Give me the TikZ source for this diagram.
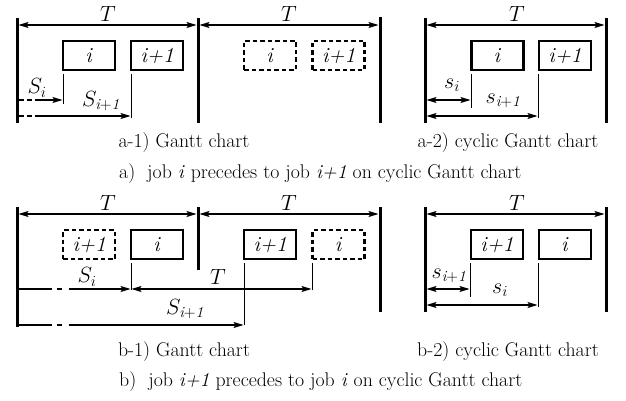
\RequirePackage{fix-cm}
\documentclass[tikz,border=0pt]{standalone}
\usepackage{fontspec}
\usetikzlibrary{arrows.meta}
\tikzset{
  every node/.style={font=\fontsize{19.8}{24}\selectfont, inner sep=0pt},
  big/.style={font=\fontsize{22}{26}\selectfont},
  bar/.style={line width=3pt},
  jobbox/.style={draw, line width=2.5pt, minimum width=52pt, minimum height=29pt, font=\fontsize{21.5}{26}\selectfont},
  ghostbox/.style={jobbox, dash pattern=on 4.5pt off 3pt},
  guide/.style={line width=0.9pt},
  tipst/.style={line width=1.1pt},
  dimarrow/.style={tipst, -{Stealth[length=10pt,width=6pt,inset=2pt]}},
  dimboth/.style={tipst, {Stealth[length=10pt,width=6pt,inset=2pt]}-{Stealth[length=10pt,width=6pt,inset=2pt]}},
  dashpart/.style={tipst, dash pattern=on 5pt off 3pt},
  dashdot/.style={tipst, dash pattern=on 33pt off 5pt on 5pt off 7pt on 400pt, -{Stealth[length=10pt,width=6pt,inset=2pt]}},
}
\begin{document}
\begin{tikzpicture}[x=1pt,y=-1pt]
\useasboundingbox (0,0) rectangle (626,401);
% ================= part a =================
\coordinate (aL1) at (17,18);  \coordinate (aL2) at (17,123);
\coordinate (aM1) at (198,18); \coordinate (aM2) at (198,123);
\coordinate (aR1) at (380,17); \coordinate (aR2) at (380,123);
\coordinate (cL1) at (425,18); \coordinate (cL2) at (425,123);
\coordinate (cR1) at (606,18); \coordinate (cR2) at (606,123);
\draw[bar] (aL1) -- (aL2);
\draw[bar] (aM1) -- (aM2);
\draw[bar] (aR1) -- (aR2);
\draw[bar] (cL1) -- (cL2);
\draw[bar] (cR1) -- (cR2);
\coordinate (aT0) at (18.5,25); \coordinate (aT1a) at (196.5,25);
\coordinate (aT1b) at (199.5,25); \coordinate (aT2) at (378.5,25);
\coordinate (cT0) at (426.5,25); \coordinate (cT1) at (604.5,25);
\draw[dimboth] (aT0) -- (aT1a);
\draw[dimboth] (aT1b) -- (aT2);
\draw[dimboth] (cT0) -- (cT1);
\node[big] (aTl1) at (108,14) {$T$};
\node[big] (aTl2) at (289,14) {$T$};
\node[big] (cTl) at (517,14) {$T$};
\node[jobbox] (a1i) at (89.2,55.5) {\textit{i}};
\node[jobbox] (a1j) at (157.2,55.5) {\textit{i+1}};
\node[ghostbox] (a1gi) at (270.2,55.5) {\textit{i}};
\node[ghostbox] (a1gj) at (338.7,55.5) {\textit{i+1}};
\node[jobbox] (a2i) at (497.5,55.5) {\textit{i}};
\node[jobbox] (a2j) at (565,55.5) {\textit{i+1}};
\coordinate (a1v1t) at (63,74);  \coordinate (a1v1b) at (63,104);
\coordinate (a1v2t) at (131,74); \coordinate (a1v2b) at (131,118);
\draw[guide] (a1v1t) -- (a1v1b);
\draw[guide] (a1v2t) -- (a1v2b);
\coordinate (a1s0) at (18.5,100); \coordinate (a1s1) at (37,100); \coordinate (a1s2) at (62.5,100);
\coordinate (a1u0) at (18.5,116); \coordinate (a1u1) at (37,116); \coordinate (a1u2) at (130.5,116);
\draw[dashpart] (a1s0) -- (a1s1);
\draw[dimarrow] (a1s1) -- (a1s2);
\draw[dashpart] (a1u0) -- (a1u1);
\draw[dimarrow] (a1u1) -- (a1u2);
\node[big] (a1Si) at (37,88) {$S_i$};
\node[big] (a1Sj) at (101,101) {$S_{\mathit{i+1}}$};
\coordinate (a2v1t) at (471,74);  \coordinate (a2v1b) at (471,108);
\coordinate (a2v2t) at (538,74);  \coordinate (a2v2b) at (538,118);
\draw[guide] (a2v1t) -- (a2v1b);
\draw[guide] (a2v2t) -- (a2v2b);
\coordinate (a2s0) at (426.5,100); \coordinate (a2s1) at (470.5,100);
\coordinate (a2u0) at (426.5,116); \coordinate (a2u1) at (537.5,116);
\draw[dimboth] (a2s0) -- (a2s1);
\draw[dimboth] (a2u0) -- (a2u1);
\node[big] (a2si) at (452,85) {$s_i$};
\node[big] (a2sj) at (503,101) {$s_{\mathit{i+1}}$};
\node[anchor=base] (capa1) at (184,147) {a-1) Gantt chart};
\node[anchor=base] (capa2) at (508,147) {a-2) cyclic Gantt chart};
\node[anchor=base west] (capa) at (119,178) {a)\ \ job \textit{i} precedes to job \textit{i+1} on cyclic Gantt chart};
% ================= part b =================
\coordinate (bL1) at (17,207);  \coordinate (bL2) at (17,327);
\coordinate (bM1) at (198,207); \coordinate (bM2) at (198,270);
\coordinate (bR1) at (380,207); \coordinate (bR2) at (380,312);
\coordinate (dL1) at (425,207); \coordinate (dL2) at (425,312);
\coordinate (dR1) at (606,207); \coordinate (dR2) at (606,312);
\draw[bar] (bL1) -- (bL2);
\draw[bar] (bM1) -- (bM2);
\draw[bar] (bR1) -- (bR2);
\draw[bar] (dL1) -- (dL2);
\draw[bar] (dR1) -- (dR2);
\coordinate (bT0) at (18.5,214); \coordinate (bT1a) at (196.5,214);
\coordinate (bT1b) at (199.5,214); \coordinate (bT2) at (378.5,214);
\coordinate (dT0) at (426.5,214); \coordinate (dT1) at (604.5,214);
\draw[dimboth] (bT0) -- (bT1a);
\draw[dimboth] (bT1b) -- (bT2);
\draw[dimboth] (dT0) -- (dT1);
\node[big] (bTl1) at (108,203) {$T$};
\node[big] (bTl2) at (289,203) {$T$};
\node[big] (dTl) at (517,203) {$T$};
\node[ghostbox] (b1gj) at (89.2,244.5) {\textit{i+1}};
\node[jobbox] (b1i) at (157.2,244.5) {\textit{i}};
\node[jobbox] (b1j) at (270.2,244.5) {\textit{i+1}};
\node[ghostbox] (b1gi) at (338.7,244.5) {\textit{i}};
\node[jobbox] (b2j) at (497,244.5) {\textit{i+1}};
\node[jobbox] (b2i) at (565,244.5) {\textit{i}};
\coordinate (b1v1t) at (131,263); \coordinate (b1v1b) at (131,290);
\coordinate (b1v2t) at (244,263); \coordinate (b1v2b) at (244,325);
\coordinate (b1v3t) at (312,263); \coordinate (b1v3b) at (312,290);
\draw[guide] (b1v1t) -- (b1v1b);
\draw[guide] (b1v2t) -- (b1v2b);
\draw[guide] (b1v3t) -- (b1v3b);
\coordinate (b1s0) at (18.5,289); \coordinate (b1s1) at (130.5,289);
\coordinate (b1t0) at (131.5,289); \coordinate (b1t1) at (311.5,289);
\coordinate (b1u0) at (18.5,325); \coordinate (b1u1) at (243.5,325);
\draw[dashdot] (b1s0) -- (b1s1);
\draw[dimboth] (b1t0) -- (b1t1);
\draw[dashdot] (b1u0) -- (b1u1);
\node[big] (b1Si) at (87,277) {$S_i$};
\node[big] (b1T) at (218,277) {$T$};
\node[big] (b1Sj) at (185,309) {$S_{\mathit{i+1}}$};
\coordinate (b2v1t) at (470,263); \coordinate (b2v1b) at (470,297);
\coordinate (b2v2t) at (538,263); \coordinate (b2v2b) at (538,307);
\draw[guide] (b2v1t) -- (b2v1b);
\draw[guide] (b2v2t) -- (b2v2b);
\coordinate (b2s0) at (426.5,289); \coordinate (b2s1) at (469.5,289);
\coordinate (b2u0) at (426.5,305); \coordinate (b2u1) at (537.5,305);
\draw[dimboth] (b2s0) -- (b2s1);
\draw[dimboth] (b2u0) -- (b2u1);
\node[big] (b2sj) at (449,276) {$s_{\mathit{i+1}}$};
\node[big] (b2si) at (500,290) {$s_i$};
\node[anchor=base] (capb1) at (184,356) {b-1) Gantt chart};
\node[anchor=base] (capb2) at (508,356) {b-2) cyclic Gantt chart};
\node[anchor=base west] (capb) at (119,386) {b)\ \ job \textit{i+1} precedes to job \textit{i} on cyclic Gantt chart};
\end{tikzpicture}
\end{document}
